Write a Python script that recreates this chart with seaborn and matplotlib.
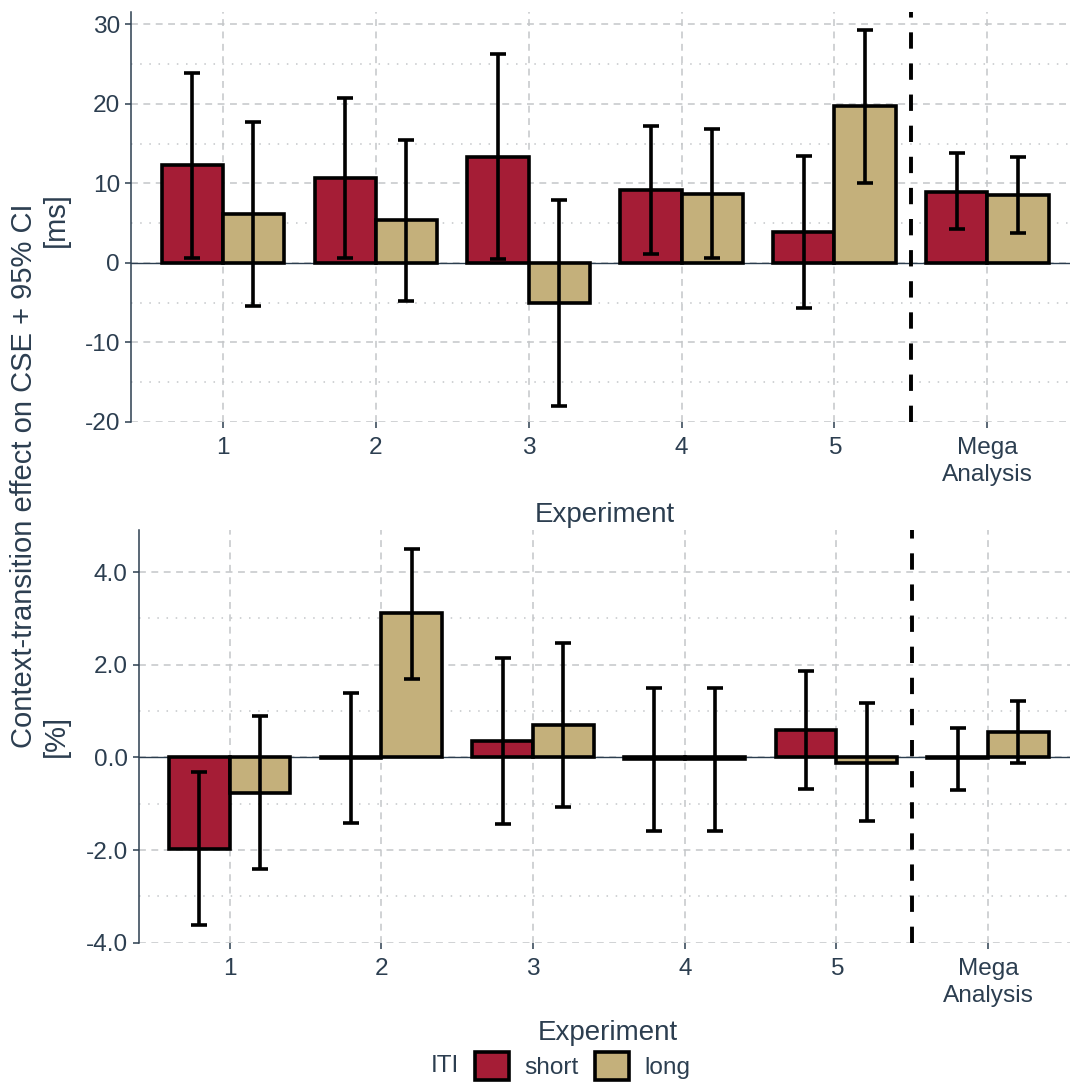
import numpy as np
import pandas as pd
import matplotlib
matplotlib.use("Agg")
import matplotlib.pyplot as plt
from matplotlib.patches import Patch
from matplotlib.ticker import FixedLocator, MultipleLocator, FixedFormatter
import seaborn as sns

# ---- data -------------------------------------------------------------
experiments = ["1", "2", "3", "4", "5", "Mega\nAnalysis"]
iti_levels = ["short", "long"]

# context-transition effect on CSE, reaction times [ms]
rt_short = [12.3, 10.7, 13.3, 9.1, 3.9, 8.9]
rt_short_lo = [0.6, 0.55, 0.45, 1.1, -5.7, 4.3]
rt_short_hi = [23.9, 20.8, 26.3, 17.2, 13.5, 13.8]
rt_long = [6.1, 5.4, -5.0, 8.6, 19.7, 8.5]
rt_long_lo = [-5.5, -4.8, -18.0, 0.6, 10.0, 3.8]
rt_long_hi = [17.7, 15.5, 7.9, 16.8, 29.3, 13.3]

# context-transition effect on CSE, error rates [%]
er_short = [-1.98, -0.01, 0.35, -0.03, 0.59, -0.02]
er_short_lo = [-3.62, -1.41, -1.44, -1.58, -0.68, -0.70]
er_short_hi = [-0.31, 1.40, 2.15, 1.49, 1.86, 0.63]
er_long = [-0.76, 3.11, 0.69, -0.03, -0.12, 0.55]
er_long_lo = [-2.41, 1.69, -1.08, -1.58, -1.38, -0.12]
er_long_hi = [0.89, 4.51, 2.48, 1.49, 1.17, 1.22]

rt_ticks = [-20, -10, 0, 10, 20, 30]
rt_tick_labels = ["-20", "-10", "0", "10", "20", "30"]
er_ticks = [-4, -2, 0, 2, 4]
er_tick_labels = ["-4.0", "-2.0", "0.0", "2.0", "4.0"]

# ---- style ------------------------------------------------------------
sns.set_style("white")
plt.rcParams["font.family"] = ["Liberation Sans", "DejaVu Sans"]
plt.rcParams["axes.unicode_minus"] = False

SLATE = "#2C3E50"
GRID = "#C4C6C9"
palette = {"short": "#A51D36", "long": "#C4B07B"}

TICK_FS = 17.6
TITLE_FS = 20.0
YLAB_FS = 21.0
EDGE_LW = 2.6


def make_frame(short, short_lo, short_hi, long_, long_lo, long_hi):
    rows = []
    for i, exp in enumerate(experiments):
        rows.append((exp, "short", short[i], short_lo[i], short_hi[i]))
        rows.append((exp, "long", long_[i], long_lo[i], long_hi[i]))
    return pd.DataFrame(rows, columns=["Experiment", "ITI", "value", "lo", "hi"])


def draw_panel(ax, df, ylim, ticks, tick_labels, minor_step):
    sns.barplot(data=df, x="Experiment", y="value", hue="ITI",
                order=experiments, hue_order=iti_levels, palette=palette,
                saturation=1, width=0.8, errorbar=None, legend=False,
                edgecolor="black", linewidth=EDGE_LW, zorder=3, ax=ax)

    # confidence intervals, placed on the centres of the drawn bars
    for level, container in zip(iti_levels, ax.containers):
        sub = df[df["ITI"] == level].set_index("Experiment").loc[experiments]
        xs = [b.get_x() + b.get_width() / 2 for b in container]
        ys = sub["value"].to_numpy()
        yerr = np.vstack([ys - sub["lo"].to_numpy(), sub["hi"].to_numpy() - ys])
        ax.errorbar(xs, ys, yerr=yerr, fmt="none", ecolor="black",
                    elinewidth=EDGE_LW, capsize=5.5, capthick=EDGE_LW, zorder=4)

    ax.axhline(0, color=SLATE, lw=1.0, zorder=2)
    ax.axvline(4.5, color="black", lw=2.8, linestyle=(0, (4.2, 3.8)), zorder=2.5)

    ax.set_xlim(-0.6, 5.54)
    ax.set_ylim(*ylim)
    ax.yaxis.set_major_locator(FixedLocator(ticks))
    ax.yaxis.set_major_formatter(FixedFormatter(tick_labels))
    ax.yaxis.set_minor_locator(MultipleLocator(minor_step))

    ax.set_axisbelow(True)
    ax.grid(which="major", axis="both", color=GRID, lw=1.1,
            linestyle=(0, (4.5, 3.6)), zorder=0)
    ax.grid(which="minor", axis="y", color=GRID, lw=1.1,
            linestyle=(0, (1.0, 5.0)), zorder=0)
    ax.xaxis.grid(True, which="major", color=GRID, lw=1.1, linestyle=(0, (4.5, 3.6)))

    for side in ("top", "right", "bottom"):
        ax.spines[side].set_visible(False)
    ax.spines["left"].set_color(SLATE)
    ax.spines["left"].set_linewidth(1.1)

    ax.tick_params(axis="both", which="major", length=4, width=1.1,
                   color=SLATE, labelcolor=SLATE, labelsize=TICK_FS)
    ax.tick_params(axis="y", which="major", pad=4, left=True)
    ax.tick_params(axis="x", which="major", pad=7, bottom=True)
    ax.tick_params(which="minor", length=0)
    for lab in ax.get_xticklabels():
        lab.set_linespacing(1.3)

    ax.set_ylabel("")
    ax.set_xlabel("Experiment", fontsize=TITLE_FS, color=SLATE)
    ax.xaxis.label.set_va("center")


fig = plt.figure(figsize=(10.7, 10.84), dpi=100)
W, H = 1070.0, 1084.0
ax_rt = fig.add_axes([131 / W, 1 - 421.7 / H, (W - 131) / W, (421.7 - 11.7) / H])
ax_er = fig.add_axes([138.8 / W, 1 - 942.7 / H, (W - 138.8) / W, (942.7 - 530) / H])

rt_df = make_frame(rt_short, rt_short_lo, rt_short_hi, rt_long, rt_long_lo, rt_long_hi)
er_df = make_frame(er_short, er_short_lo, er_short_hi, er_long, er_long_lo, er_long_hi)

draw_panel(ax_rt, rt_df, (-20, 31.6), rt_ticks, rt_tick_labels, 5)
draw_panel(ax_er, er_df, (-4, 4.91), er_ticks, er_tick_labels, 1)

ax_rt.xaxis.set_label_coords((605 - 131) / (W - 131), (421.7 - 515) / 410.0)
ax_er.xaxis.set_label_coords((608 - 138.8) / (W - 138.8), (942.7 - 1033) / 412.7)

# shared y-axis title with unit for each panel
fig.text(24.5 / W, 1 - 476 / H, "Context-transition effect on CSE + 95% CI",
         rotation=90, ha="center", va="center", fontsize=YLAB_FS, color=SLATE)
fig.text(56 / W, 1 - 192 / H, "[ms]", rotation=90, ha="center", va="top",
         fontsize=YLAB_FS, color=SLATE)
fig.text(56 / W, 1 - 757 / H, "[%]", rotation=90, ha="center", va="bottom",
         fontsize=YLAB_FS, color=SLATE)

# legend
handles = [Patch(facecolor=palette[k], edgecolor="black", linewidth=EDGE_LW, label=k)
           for k in iti_levels]
fig.legend(handles=handles, loc="center", bbox_to_anchor=(582.5 / W, 1 - 1066 / H),
           ncol=2, frameon=False, fontsize=TICK_FS, labelcolor=SLATE,
           handlelength=1.4, handleheight=1.4, handletextpad=0.6,
           columnspacing=0.7, borderpad=0)
fig.text(445 / W, 1 - 1066 / H, "ITI", ha="center", va="center",
         fontsize=TICK_FS, color=SLATE)

fig.savefig("out.png", dpi=100)
